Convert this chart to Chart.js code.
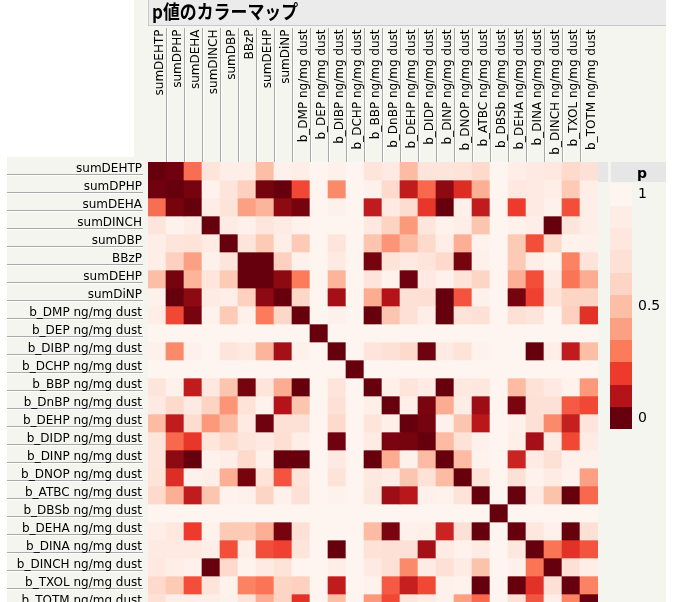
<!DOCTYPE html>
<html lang="ja">
<head>
<meta charset="utf-8">
<title>p値のカラーマップ</title>
<script src="https://cdn.jsdelivr.net/npm/chart.js@4.4.1/dist/chart.umd.min.js"></script>
<style>
  html, body { margin: 0; padding: 0; background: #ffffff; overflow: hidden; }
  canvas { display: block; }
</style>
</head>
<body>
<canvas id="pmap" width="674" height="620"></canvas>
<script>
// Variables (same order for rows and columns)
const variables = [
  'sumDEHTP', 'sumDPHP', 'sumDEHA', 'sumDINCH', 'sumDBP', 'BBzP', 'sumDEHP', 'sumDiNP',
  'b_DMP ng/mg dust', 'b_DEP ng/mg dust', 'b_DIBP ng/mg dust', 'b_DCHP ng/mg dust',
  'b_BBP ng/mg dust', 'b_DnBP ng/mg dust', 'b_DEHP ng/mg dust', 'b_DIDP ng/mg dust',
  'b_DINP ng/mg dust', 'b_DNOP ng/mg dust', 'b_ATBC ng/mg dust', 'b_DBSb ng/mg dust',
  'b_DEHA ng/mg dust', 'b_DINA ng/mg dust', 'b_DINCH ng/mg dust', 'b_TXOL ng/mg dust',
  'b_TOTM ng/mg dust'
];

// Pairwise p-values, one row per variable
const pValues = [
  /* sumDEHTP */ [0, 0.01, 0.28, 0.77, 0.91, 0.91, 0.5, 0.94, 0.91, 1, 0.94, 1, 0.77, 0.85, 0.49, 0.77, 0.77, 0.73, 0.64, 1, 0.91, 0.85, 0.82, 0.64, 0.7],
  /* sumDPHP  */ [0.01, 0, 0.02, 0.96, 0.77, 0.58, 0.02, 0, 0.22, 1, 0.34, 1, 0.94, 0.64, 0.12, 0.27, 0.05, 0.17, 0.45, 1, 0.82, 0.85, 0.91, 0.55, 0.91],
  /* sumDEHA  */ [0.28, 0.02, 0, 0.9, 0.73, 0.4, 0.47, 0.05, 0.02, 1, 0.94, 1, 0.12, 0.85, 0.67, 0.19, 0, 0.94, 0.12, 1, 0.2, 0.85, 0.94, 0.23, 0.91],
  /* sumDINCH */ [0.77, 0.96, 0.9, 0, 0.86, 0.94, 0.78, 0.86, 0.95, 1, 1, 1, 0.82, 0.59, 0.38, 0.78, 0.96, 0.91, 0.53, 1, 0.96, 0.91, 0, 0.77, 0.91],
  /* sumDBP   */ [0.91, 0.77, 0.73, 0.86, 0, 0.77, 0.55, 0.91, 0.55, 1, 0.77, 1, 0.53, 0.37, 0.49, 0.64, 0.91, 0.45, 0.96, 1, 0.55, 0.23, 0.64, 0.96, 0.94],
  /* BBzP     */ [0.91, 0.58, 0.4, 0.94, 0.77, 0, 0, 0.58, 0.94, 1, 0.85, 1, 0.02, 0.73, 0.85, 0.77, 0.64, 0.02, 0.94, 1, 0.55, 0.91, 0.97, 0.32, 0.73],
  /* sumDEHP  */ [0.5, 0.02, 0.47, 0.78, 0.55, 0, 0, 0.05, 0.3, 1, 0.47, 1, 0.77, 0.96, 0.01, 0.85, 0.94, 0.73, 0.6, 1, 0.45, 0.23, 0.85, 0.29, 0.44],
  /* sumDiNP  */ [0.94, 0, 0.05, 0.86, 0.91, 0.58, 0.05, 0, 0.62, 1, 0.08, 1, 0.44, 0.1, 0.7, 0.68, 0, 0.24, 0.94, 1, 0.02, 0.21, 0.73, 0.6, 0.6],
  /* b_DMP    */ [0.91, 0.22, 0.02, 0.95, 0.55, 0.94, 0.3, 0.62, 0, 1, 0.94, 1, 0, 0.53, 0.7, 0.91, 0, 0.73, 0.7, 1, 0.7, 0.77, 1, 0.58, 0.18],
  /* b_DEP    */ [1, 1, 1, 1, 1, 1, 1, 1, 1, 0, 1, 1, 1, 1, 1, 1, 1, 1, 1, 1, 1, 1, 1, 1, 1],
  /* b_DIBP   */ [0.94, 0.34, 0.94, 1, 0.77, 0.85, 0.47, 0.08, 0.94, 1, 0, 1, 0.77, 0.7, 0.64, 0.01, 0.85, 0.73, 0.96, 1, 1, 0, 0.91, 0.12, 0.5],
  /* b_DCHP   */ [1, 1, 1, 1, 1, 1, 1, 1, 1, 1, 1, 0, 1, 1, 1, 1, 1, 1, 1, 1, 1, 1, 1, 1, 1],
  /* b_BBP    */ [0.77, 0.94, 0.12, 0.82, 0.53, 0.02, 0.77, 0.44, 0, 1, 0.77, 1, 0, 0.92, 0.77, 0.87, 0, 0.84, 0.8, 1, 0.49, 0.72, 0.85, 0.96, 0.38],
  /* b_DnBP   */ [0.85, 0.64, 0.85, 0.59, 0.37, 0.73, 0.96, 0.1, 0.53, 1, 0.7, 1, 0.92, 0, 0.93, 0.025, 0.44, 0.9, 0.07, 1, 0.025, 0.7, 0.7, 0.25, 0.22],
  /* b_DEHP   */ [0.49, 0.12, 0.67, 0.38, 0.49, 0.85, 0.01, 0.7, 0.7, 1, 0.64, 1, 0.77, 0.93, 0, 0.02, 0.94, 0.53, 0.11, 1, 0.94, 0.7, 0.34, 0.13, 0.77],
  /* b_DIDP   */ [0.77, 0.27, 0.19, 0.78, 0.64, 0.77, 0.85, 0.68, 0.91, 1, 0.01, 1, 0.87, 0.025, 0.02, 0, 0.49, 0.72, 0.94, 1, 0.93, 0.08, 0.86, 0.22, 0.86],
  /* b_DINP   */ [0.77, 0.05, 0, 0.96, 0.91, 0.64, 0.94, 0, 0, 1, 0.85, 1, 0, 0.44, 0.94, 0.49, 0, 0.49, 0.96, 1, 0.14, 0.86, 0.7, 0.94, 0.94],
  /* b_DNOP   */ [0.73, 0.17, 0.94, 0.91, 0.45, 0.02, 0.73, 0.24, 0.73, 1, 0.73, 1, 0.84, 0.9, 0.53, 0.72, 0.49, 0, 0.73, 1, 0.7, 0.95, 0.86, 0.96, 0.4],
  /* b_ATBC   */ [0.64, 0.45, 0.12, 0.53, 0.96, 0.94, 0.6, 0.94, 0.7, 1, 0.96, 1, 0.8, 0.07, 0.11, 0.94, 0.96, 0.73, 0, 1, 0, 0.86, 0.52, 0, 0.27],
  /* b_DBSb   */ [1, 1, 1, 1, 1, 1, 1, 1, 1, 1, 1, 1, 1, 1, 1, 1, 1, 1, 1, 0, 1, 1, 1, 1, 1],
  /* b_DEHA   */ [0.91, 0.82, 0.2, 0.96, 0.55, 0.55, 0.45, 0.02, 0.7, 1, 1, 1, 0.49, 0.025, 0.94, 0.93, 0.14, 0.7, 0, 1, 0, 0.8, 0.94, 0, 0.7],
  /* b_DINA   */ [0.85, 0.85, 0.85, 0.91, 0.23, 0.91, 0.23, 0.21, 0.77, 1, 0, 1, 0.72, 0.7, 0.7, 0.08, 0.86, 0.95, 0.86, 1, 0.8, 0, 0.29, 0.18, 0.24],
  /* b_DINCH  */ [0.82, 0.91, 0.94, 0, 0.64, 0.97, 0.85, 0.73, 1, 1, 0.91, 1, 0.85, 0.7, 0.34, 0.86, 0.7, 0.86, 0.52, 1, 0.94, 0.29, 0, 0.7, 0.91],
  /* b_TXOL   */ [0.64, 0.55, 0.23, 0.77, 0.96, 0.32, 0.29, 0.6, 0.58, 1, 0.12, 1, 0.96, 0.25, 0.13, 0.22, 0.94, 0.96, 0, 1, 0, 0.18, 0.7, 0, 0.32],
  /* b_TOTM   */ [0.7, 0.91, 0.91, 0.91, 0.94, 0.73, 0.44, 0.6, 0.18, 1, 0.5, 1, 0.38, 0.22, 0.77, 0.86, 0.94, 0.4, 0.27, 1, 0.7, 0.24, 0.91, 0.32, 0]
];

// Colour bar tick labels
const legendTickValues = [1, 0.5, 0];
const legendTickLabels = ['1', '0.5', '0'];

const TITLE = 'p値のカラーマップ';
const LEGEND_TITLE = 'p';

// Red colour ramp, p = 0 (dark) ... p = 1 (near white)
const rampStops = [
  [0.0, [103, 0, 13]],
  [0.1, [180, 19, 25]],
  [0.2, [238, 58, 44]],
  [0.3, [251, 123, 91]],
  [0.4, [252, 160, 131]],
  [0.5, [252, 190, 165]],
  [0.6, [253, 213, 197]],
  [0.7, [254, 225, 214]],
  [0.8, [254, 231, 222]],
  [0.9, [254, 237, 230]],
  [1.0, [255, 245, 240]]
];

function colorFor(p) {
  const v = Math.max(0, Math.min(1, p));
  for (let i = 1; i < rampStops.length; i++) {
    const [p1, c1] = rampStops[i];
    const [p0, c0] = rampStops[i - 1];
    if (v <= p1) {
      const t = (v - p0) / (p1 - p0);
      const c = c0.map((a, k) => Math.round(a + (c1[k] - a) * t));
      return `rgb(${c[0]},${c[1]},${c[2]})`;
    }
  }
  return 'rgb(255,245,240)';
}

const FONT = '"DejaVu Sans", Verdana, sans-serif';
const PANEL_BG = '#f5f5f0';

// Background panels, title, axis labels and colour bar
const framePlugin = {
  id: 'frame',
  beforeDraw(chart) {
    const { ctx, chartArea: area, scales: { x, y } } = chart;
    const W = chart.width, H = chart.height;
    const n = variables.length;
    const colW = (area.right - area.left) / n;
    const panelRight = 666;

    ctx.save();
    ctx.fillStyle = '#ffffff';
    ctx.fillRect(0, 0, W, H);

    // panel backgrounds
    ctx.fillStyle = PANEL_BG;
    ctx.fillRect(134, 0, panelRight - 134, area.top);
    ctx.fillRect(7, area.top - 5, panelRight - 7, H - area.top + 5);

    // title bar
    ctx.fillStyle = '#ebebeb';
    ctx.fillRect(area.left, 0, panelRight - area.left, 26);
    ctx.fillStyle = '#c9c9c9';
    ctx.fillRect(area.left, 25, panelRight - area.left, 1);
    ctx.fillRect(area.left, 0, 1, 26);
    ctx.save();
    ctx.fillStyle = '#000000';
    ctx.font = 'bold 19px "Noto Sans CJK JP", sans-serif';
    ctx.textAlign = 'left';
    ctx.textBaseline = 'alphabetic';
    ctx.translate(area.left + 4, 18.8);
    ctx.scale(0.89, 1);
    ctx.fillText(TITLE, 0, 0);
    ctx.restore();

    // column separators
    for (let c = 1; c < n; c++) {
      const xb = Math.round(x.getPixelForValue(c) - colW / 2);
      ctx.fillStyle = '#a9a9a9';
      ctx.fillRect(xb, 28, 1, area.top - 28);
      ctx.fillStyle = '#ffffff';
      ctx.fillRect(xb + 1, 28, 1, area.top - 28);
    }

    // column labels (vertical)
    ctx.fillStyle = '#000000';
    ctx.font = '12px ' + FONT;
    variables.forEach((name, c) => {
      const cx = x.getPixelForValue(c) + 3;
      ctx.save();
      ctx.translate(cx, 29.5);
      ctx.rotate(-Math.PI / 2);
      ctx.textAlign = 'right';
      ctx.textBaseline = 'middle';
      ctx.fillText(name, 0, 0);
      ctx.restore();
    });

    // row labels with underline
    variables.forEach((name, r) => {
      const top = y.getPixelForValue(r);
      const lineY = Math.round(top + 11.5);
      ctx.fillStyle = '#a9a9a9';
      ctx.fillRect(7, lineY, 136, 1);
      ctx.fillStyle = '#ffffff';
      ctx.fillRect(7, lineY + 1, 136, 1);
      ctx.fillStyle = '#000000';
      ctx.textAlign = 'right';
      ctx.textBaseline = 'alphabetic';
      ctx.fillText(name, 142, top + 9.8);
    });

    // colour bar header
    ctx.fillStyle = '#e6e6e6';
    ctx.fillRect(area.right, area.top, 10, 20);
    ctx.fillRect(611, area.top, panelRight - 611, 20);
    ctx.fillStyle = '#000000';
    ctx.font = 'bold 14px ' + FONT;
    ctx.textAlign = 'left';
    ctx.textBaseline = 'alphabetic';
    ctx.fillText(LEGEND_TITLE, 637, area.top + 16);

    // colour bar swatches, p = 1 at top down to p = 0
    const sTop = 183.3, sH = 22.38, sX = 610, sW = 22;
    for (let i = 0; i <= 10; i++) {
      const p = 1 - i / 10;
      ctx.fillStyle = colorFor(p);
      ctx.fillRect(sX, Math.round(sTop + i * sH), sW, Math.round(sTop + (i + 1) * sH) - Math.round(sTop + i * sH));
    }
    ctx.fillStyle = '#000000';
    ctx.font = '14px ' + FONT;
    ctx.textBaseline = 'middle';
    legendTickValues.forEach((v, i) => {
      const yy = sTop + (1 - v) * 10 * sH + sH / 2;
      ctx.fillText(legendTickLabels[i], 638, yy);
    });
    ctx.restore();
  }
};

function draw() {
  const datasets = variables.map((name, r) => ({
    label: name,
    data: variables.map(() => [r, r + 1]),
    backgroundColor: pValues[r].map(colorFor),
    borderWidth: 0,
    barPercentage: 1,
    categoryPercentage: 1,
    grouped: false
  }));

  new Chart(document.getElementById('pmap'), {
    type: 'bar',
    data: { labels: variables, datasets },
    options: {
      responsive: false,
      animation: false,
      devicePixelRatio: 1,
      layout: { padding: { left: 148, right: 76, top: 162, bottom: 8 } },
      scales: {
        x: { type: 'category', display: false, offset: true },
        y: { type: 'linear', display: false, min: 0, max: 25, reverse: true }
      },
      plugins: {
        legend: { display: false },
        tooltip: { enabled: false }
      }
    },
    plugins: [framePlugin]
  });
}

const fontLoads = [
  document.fonts.load('bold 19px "Noto Sans CJK JP"', 'p値のカラーマップ'),
  document.fonts.load('12px "DejaVu Sans"'),
  document.fonts.load('bold 14px "DejaVu Sans"')
];
Promise.all(fontLoads).then(draw, draw);
</script>
</body>
</html>
